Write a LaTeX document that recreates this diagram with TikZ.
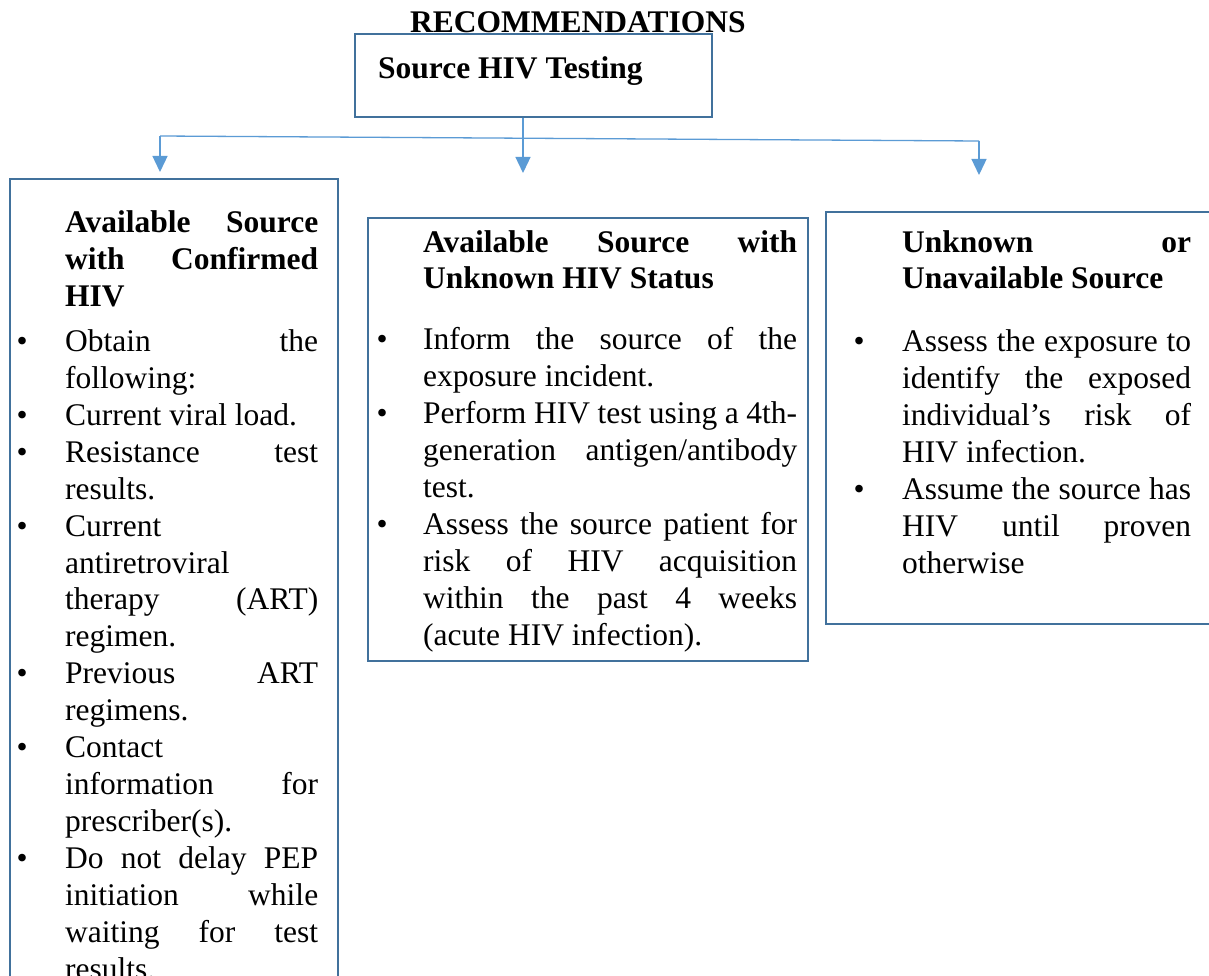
\documentclass[tikz,border=0pt]{standalone}
\usepackage{fontspec}
\setmainfont{Liberation Serif}
\usetikzlibrary{arrows.meta}
\definecolor{boxblue}{HTML}{41719C}
\definecolor{linkblue}{HTML}{5B9BD5}
\newlength{\tw}
\newlength{\bsep}
\newcommand{\J}[1]{\makebox[\tw][s]{#1}}
\newcommand{\B}{\leavevmode\llap{\textbullet\hspace{\bsep}}}
\begin{document}
\begin{tikzpicture}[x=1pt,y=-1pt,
  box/.style={draw=boxblue, line width=2.2pt, fill=white, inner sep=0pt, anchor=north west},
  link/.style={draw=linkblue, line width=1.3pt},
  arr/.style={link, -{Triangle[width=15pt,length=16pt]}},
  txt/.style={anchor=base west, inner sep=0pt, font=\fontsize{31.5}{36.9}\selectfont}
]
\useasboundingbox (0,0) rectangle (1209,976);
\fill[white] (0,0) rectangle (1209,976);
\clip (0,0) rectangle (1209,976);

% title and top box
\node[txt, font=\bfseries\fontsize{31.5}{36.9}\selectfont] (title) at (410,33) {RECOMMENDATIONS};
\node[box, minimum width=357pt, minimum height=83pt] (top) at (354,33) {};
\node[txt, font=\bfseries\fontsize{31.5}{36.9}\selectfont] (toptext) at (378,79) {Source HIV Testing};

% three boxes
\node[box, minimum width=328pt, minimum height=900pt] (left) at (9,178) {};
\node[box, minimum width=440pt, minimum height=443pt] (mid) at (367,217) {};
\node[box, minimum width=420pt, minimum height=412pt] (right) at (825,211) {};

% connectors
\coordinate (jl) at (160,136);
\coordinate (jm) at (523,138.3);
\coordinate (jr) at (979,141);
\draw[link] (top.south -| jm) -- (jm);
\draw[link] (jl) -- (jr);
\draw[arr, shorten >=6pt] (jl) -- (left.north -| jl);
\draw[arr, shorten >=44pt] (jm) -- (mid.north -| jm);
\draw[arr, shorten >=36pt] (jr) -- (right.north -| jr);

% left box text
\node[txt] (lefttext) at (65,233) {\setlength{\tw}{253pt}\setlength{\bsep}{37.5pt}%
\parbox[t]{\tw}{\raggedright
\textbf{\J{Available Source}}\\
\textbf{\J{with Confirmed}}\\
\textbf{HIV}\\[8pt]
\B\J{Obtain the}\\
following:\\
\B Current viral load.\\
\B\J{Resistance test}\\
results.\\
\B Current\\
antiretroviral\\
\J{therapy (ART)}\\
regimen.\\
\B\J{Previous ART}\\
regimens.\\
\B Contact\\
\J{information for}\\
prescriber(s).\\
\B\J{Do not delay PEP}\\
\J{initiation while}\\
\J{waiting for test}\\
results.}};

% middle box text
\node[txt] (midtext) at (423,252) {\setlength{\tw}{374pt}\setlength{\bsep}{35.5pt}%
\parbox[t]{\tw}{\raggedright
\textbf{\J{Available Source with}}\\
\textbf{Unknown HIV Status}\\[24pt]
\B\J{Inform the source of the}\\
exposure incident.\\
\B\J{Perform HIV test using a 4th-}\\
\J{generation antigen/antibody}\\
test.\\
\B\J{Assess the source patient for}\\
\J{risk of HIV acquisition}\\
\J{within the past 4 weeks}\\
(acute HIV infection).}};

% right box text
\node[txt] (righttext) at (902,252) {\setlength{\tw}{289pt}\setlength{\bsep}{37.5pt}%
\parbox[t]{\tw}{\raggedright
\textbf{\J{Unknown or}}\\
\textbf{Unavailable Source}\\[26pt]
\B\J{Assess the exposure to}\\
\J{identify the exposed}\\
\J{individual’s risk of}\\
HIV infection.\\
\B\J{Assume the source has}\\
\J{HIV until proven}\\
otherwise}};
\end{tikzpicture}
\end{document}
